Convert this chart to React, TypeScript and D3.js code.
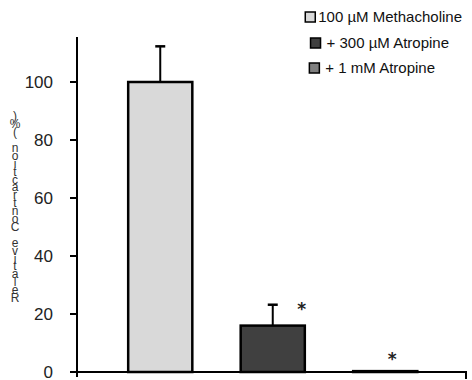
import { useEffect, useRef } from "react";
import * as d3 from "d3";

// chart data
const categories = ["Methacholine", "Atropine300", "Atropine1mM"];
const legendLabels = ["100 \u00b5M Methacholine", "+ 300 \u00b5M Atropine", "+ 1 mM Atropine"];
const values = [100, 16, 0.3];
const errors = [12.3, 7.2, 0];
const significant = [false, true, true];
const yTicks = [0, 20, 40, 60, 80, 100];
const yLabel = "Relative Contraction (%)";
const barColors = ["#d9d9d9", "#404040", "#7f7f7f"];

const W = 472;
const H = 380;

export default function App() {
  const ref = useRef<SVGSVGElement>(null);

  useEffect(() => {
    if (!ref.current) return;
    const svg = d3.select(ref.current);
    svg.selectAll("*").remove();

    const y = d3.scaleLinear().domain([0, 20]).range([372, 314]);
    const x = d3.scaleBand<string>()
      .domain(categories)
      .range([104, 441.5])
      .paddingInner(0.43)
      .paddingOuter(0.215);

    const font = "'Liberation Sans', Arial, sans-serif";

    // y axis
    svg.append("line")
      .attr("x1", 77).attr("x2", 77)
      .attr("y1", 37).attr("y2", 377)
      .attr("stroke", "#000").attr("stroke-width", 2);

    const tickG = svg.selectAll("g.ytick").data(yTicks).enter().append("g");
    tickG.append("line")
      .attr("x1", 70).attr("x2", 77)
      .attr("y1", d => y(d)).attr("y2", d => y(d))
      .attr("stroke", "#000").attr("stroke-width", 2);
    tickG.append("text")
      .attr("x", 53)
      .attr("y", d => y(d) + 5.5)
      .attr("text-anchor", "end")
      .attr("font-family", font)
      .attr("font-size", 17)
      .attr("fill", "#222")
      .text(d => d);

    // x axis
    svg.append("line")
      .attr("x1", 70).attr("x2", 467)
      .attr("y1", 372).attr("y2", 372)
      .attr("stroke", "#000").attr("stroke-width", 2);
    svg.append("line")
      .attr("x1", 466).attr("x2", 466)
      .attr("y1", 372).attr("y2", 379)
      .attr("stroke", "#000").attr("stroke-width", 2);

    // bars
    const bars = svg.selectAll("g.bar").data(categories).enter().append("g");
    bars.append("line")
      .attr("x1", d => x(d)! + x.bandwidth() / 2)
      .attr("x2", d => x(d)! + x.bandwidth() / 2)
      .attr("y1", (d, i) => y(values[i]))
      .attr("y2", (d, i) => y(values[i] + errors[i]))
      .attr("stroke", "#000").attr("stroke-width", 2)
      .attr("display", (d, i) => (errors[i] > 0 ? null : "none"));
    bars.append("line")
      .attr("x1", d => x(d)! + x.bandwidth() / 2 - 5)
      .attr("x2", d => x(d)! + x.bandwidth() / 2 + 5)
      .attr("y1", (d, i) => y(values[i] + errors[i]))
      .attr("y2", (d, i) => y(values[i] + errors[i]))
      .attr("stroke", "#000").attr("stroke-width", 2.5)
      .attr("display", (d, i) => (errors[i] > 0 ? null : "none"));
    bars.append("rect")
      .attr("x", d => x(d)!)
      .attr("width", x.bandwidth())
      .attr("y", (d, i) => y(values[i]))
      .attr("height", (d, i) => y(0) - y(values[i]))
      .attr("fill", (d, i) => barColors[i])
      .attr("stroke", "#000").attr("stroke-width", 2.5);
    bars.append("text")
      .attr("x", (d, i) => x(d)! + x.bandwidth() / 2 + (i === 1 ? 29 : 7))
      .attr("y", (d, i) => y(values[i] + errors[i]) + (i === 1 ? 10 : -6))
      .attr("text-anchor", "middle")
      .attr("font-family", "'DejaVu Sans', sans-serif")
      .attr("font-size", 17)
      .attr("font-weight", "bold")
      .attr("fill", "#222")
      .text((d, i) => (significant[i] ? "*" : ""));

    // stacked y label, characters upright going upward
    const chars = yLabel.split("");
    svg.append("g").selectAll("text").data(chars).enter().append("text")
      .attr("x", 15)
      .attr("y", (d, i) => 302 - i * 7.9)
      .attr("text-anchor", "middle")
      .attr("font-family", font)
      .attr("font-size", 12)
      .attr("fill", "#333")
      .text(d => d);

    // legend
    const legendEnds = [462, 449, 435];
    const legendY = [22, 48, 73];
    const leg = svg.selectAll("g.leg").data(legendLabels).enter().append("g")
      .attr("transform", (d, i) => `translate(0,${legendY[i]})`);
    const legText = leg.append("text")
      .attr("x", (d, i) => legendEnds[i])
      .attr("y", 0)
      .attr("text-anchor", "end")
      .attr("font-family", font)
      .attr("font-size", 15)
      .attr("fill", "#111")
      .text(d => d);
    legText.each(function (d, i) {
      const bb = (this as SVGTextElement).getBBox();
      d3.select((this as SVGTextElement).parentNode as SVGGElement)
        .insert("rect", "text")
        .attr("x", bb.x - (i === 0 ? 13 : 16))
        .attr("y", -10)
        .attr("width", 10).attr("height", 10)
        .attr("fill", barColors[i])
        .attr("stroke", "#000").attr("stroke-width", 1.5);
    });
  }, []);

  return (
    <svg
      ref={ref}
      width={W}
      height={H}
      style={{ position: "absolute", left: 0, top: 0, background: "#fff" }}
    />
  );
}
